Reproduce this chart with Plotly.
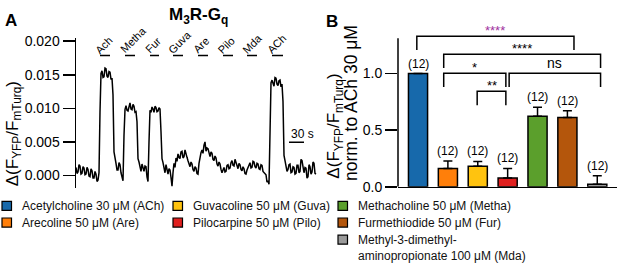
import plotly.graph_objects as go

W, H = 617, 271
FONT = "Liberation Sans, Arial, sans-serif"

# ---------------- Panel A data (trace, 2 s sampling) ----------------
time_s = list(range(0, 482, 2))
trace_values = [
    0.0012, 0.0003, 0.0005, 0.0016, 0.0014, 0.0002, 0.0003, 0.0013, 0.0011, 0.0001,
    0.0002, 0.0012, 0.0009, -0.0001, -0.0002, 0.0010, 0.0007, -0.0004, -0.0004, 0.0006,
    0.0002, -0.0009, -0.0007, 0.0004, 0.0095, 0.0152, 0.0156, 0.0146, 0.0147, 0.0160,
    0.0159, 0.0148, 0.0146, 0.0155, 0.0154, 0.0143, 0.0145, 0.0120, 0.0035, 0.0028,
    0.0018, 0.0008, 0.0008, 0.0019, 0.0016, 0.0004, -0.0004, -0.0008, 0.0060, 0.0098,
    0.0104, 0.0097, 0.0096, 0.0105, 0.0108, 0.0099, 0.0098, 0.0106, 0.0103, 0.0094,
    0.0095, 0.0080, 0.0025, 0.0020, 0.0012, 0.0006, 0.0017, 0.0010, 0.0006, 0.0014,
    0.0013, -0.0002, -0.0009, 0.0050, 0.0097, 0.0094, 0.0102, 0.0099, 0.0094, 0.0103,
    0.0101, 0.0095, 0.0096, 0.0101, 0.0099, 0.0065, 0.0025, 0.0019, 0.0010, 0.0004,
    0.0016, 0.0008, 0.0002, 0.0010, 0.0008, -0.0003, -0.0016, 0.0004, 0.0018, 0.0012,
    0.0026, 0.0021, 0.0032, 0.0027, 0.0025, 0.0035, 0.0036, 0.0026, 0.0028, 0.0038,
    0.0034, 0.0027, 0.0022, 0.0017, 0.0013, 0.0020, 0.0017, 0.0009, 0.0006, 0.0013,
    0.0011, 0.0003, 0.0002, 0.0018, 0.0030, 0.0034, 0.0038, 0.0033, 0.0045, 0.0050,
    0.0036, 0.0041, 0.0040, 0.0032, 0.0028, 0.0035, 0.0033, 0.0024, 0.0022, 0.0029,
    0.0026, 0.0017, 0.0014, 0.0020, 0.0017, 0.0009, 0.0004, 0.0008, 0.0012, 0.0005,
    0.0006, 0.0015, 0.0016, 0.0010, 0.0011, 0.0019, 0.0022, 0.0015, 0.0014, 0.0024,
    0.0019, 0.0013, 0.0010, 0.0018, 0.0016, 0.0009, 0.0007, 0.0013, 0.0010, 0.0003,
    0.0002, 0.0008, 0.0012, 0.0018, 0.0019, 0.0011, 0.0012, 0.0021, 0.0020, 0.0013,
    0.0011, 0.0018, 0.0017, 0.0010, 0.0009, 0.0016, 0.0015, 0.0006, 0.0004, 0.0002,
    0.0001, -0.0010, -0.0008, -0.0013, 0.0080, 0.0138, 0.0142, 0.0135, 0.0133, 0.0146,
    0.0145, 0.0136, 0.0134, 0.0141, 0.0142, 0.0132, 0.0136, 0.0110, 0.0030, 0.0022,
    0.0014, 0.0006, 0.0009, 0.0016, 0.0017, 0.0004, 0.0005, 0.0013, 0.0012, 0.0002,
    0.0003, 0.0015, 0.0015, 0.0004, 0.0006, 0.0024, 0.0022, 0.0008, 0.0004, 0.0012,
    0.0011, -0.0004, -0.0002, 0.0016, 0.0013, 0.0002, 0.0005, 0.0020, 0.0018, 0.0003,
    0.0002,
]
assert len(time_s) == len(trace_values)

app_labels = ["Ach", "Metha", "Fur", "Guva", "Are", "Pilo", "Mda", "ACh"]
app_start_s = [48, 98, 148, 194, 244, 294, 342, 392]
app_end_s = [68, 118, 166, 214, 264, 314, 362, 414]
scale_bar_s = 30
a_yticks = [0.000, 0.005, 0.010, 0.015, 0.020]

# ---------------- Panel B data (bars) ----------------
codes = ["ACh", "Are", "Guva", "Pilo", "Metha", "Fur", "Mda"]
legend_names = [
    "Acetylcholine 30 μM (ACh)",
    "Arecoline 50 μM (Are)",
    "Guvacoline 50 μM (Guva)",
    "Pilocarpine 50 μM (Pilo)",
    "Methacholine 50 μM (Metha)",
    "Furmethiodide 50 μM (Fur)",
    "Methyl-3-dimethyl-<br>aminopropionate 100 μM (Mda)",
]
bar_values = [1.0, 0.162, 0.182, 0.078, 0.624, 0.611, 0.022]
err_upper = [0.0, 0.065, 0.042, 0.084, 0.079, 0.061, 0.076]
n_cells = [12, 12, 12, 12, 12, 12, 12]
b_yticks = [0.0, 0.5, 1.0]
# significance comparisons: (left index, right index, label)
sig_pairs = [(0, 5, "****"), (1, 6, "****"), (1, 3, "*"), (3, 6, "ns"), (2, 3, "**")]

bar_colors = ["#1769ab", "#ff7f0a", "#ffc30f", "#e0201f", "#5b9f2c", "#b4560c", "#9a9a9a"]


def fx(px):
    return px / W


def fy(py):
    return 1 - py / H


fig = go.Figure()

fig.add_trace(go.Scatter(
    x=time_s, y=trace_values, mode="lines",
    line=dict(color="black", width=1.5),
    xaxis="x", yaxis="y", showlegend=False, hoverinfo="skip",
))

fig.add_trace(go.Bar(
    x=codes, y=bar_values, width=0.64,
    marker=dict(color=bar_colors, line=dict(color="black", width=1.5)),
    error_y=dict(type="data", symmetric=False, array=err_upper,
                 arrayminus=[0] * len(err_upper), color="black",
                 thickness=1.5, width=4.5),
    xaxis="x2", yaxis="y2", showlegend=False,
))

shapes = []
annotations = []

# ---- Panel A decorations: application bars with diagonal labels
APP_Y = 0.01787
for lab, s, e in zip(app_labels, app_start_s, app_end_s):
    shapes.append(dict(type="line", xref="x", yref="y", x0=s, x1=e, y0=APP_Y, y1=APP_Y,
                       line=dict(color="black", width=1.5)))
    annotations.append(dict(xref="x", yref="y", x=s, y=APP_Y, text=lab, textangle=-45,
                            xanchor="left", yanchor="bottom", xshift=-10, yshift=-3,
                            showarrow=False, font=dict(size=11, color="black", family=FONT)))

SB_X0 = 426
shapes.append(dict(type="line", xref="x", yref="y", x0=SB_X0, x1=SB_X0 + scale_bar_s,
                   y0=0.00496, y1=0.00496, line=dict(color="black", width=1.5)))
annotations.append(dict(xref="x", yref="y", x=SB_X0, y=0.00496, text=f"{scale_bar_s} s",
                        xanchor="left", yanchor="bottom", yshift=-1, showarrow=False,
                        font=dict(size=12, color="black", family=FONT)))

# ---- Panel B decorations
for i, (v, e, n) in enumerate(zip(bar_values, err_upper, n_cells)):
    annotations.append(dict(xref="x2", yref="y2", x=i, y=v + e, text=f"({n})",
                            xanchor="center", yanchor="bottom", yshift=1, showarrow=False,
                            font=dict(size=12, color="black", family=FONT)))

# y spine for panel B (axis line limited to the value range)
shapes.append(dict(type="line", xref="x2 domain", yref="y2", x0=0, x1=0, y0=0, y1=1.311,
                   line=dict(color="black", width=1.5)))

# bracket geometry (layout constants)
br_x = [(-0.04, 5.22), (0.86, 6.11), (0.86, 2.94), (3.05, 6.11), (1.98, 2.94)]
br_top = [1.330, 1.171, 1.0025, 1.0025, 0.843]
br_drop = 0.122
br_colors = ["#a0309e", "black", "black", "black", "black"]
br_font = [13, 13, 13, 14, 13]
for (i, j, lab), (x0, x1), top, col, fs in zip(sig_pairs, br_x, br_top, br_colors, br_font):
    path = f"M {x0} {top - br_drop} L {x0} {top} L {x1} {top} L {x1} {top - br_drop}"
    shapes.append(dict(type="path", xref="x2", yref="y2", path=path,
                       line=dict(color="black", width=1.5)))
    annotations.append(dict(xref="x2", yref="y2", x=(x0 + x1) / 2, y=top, text=lab,
                            xanchor="center", yanchor="bottom", yshift=0 if lab == "ns" else -4,
                            showarrow=False, font=dict(size=fs, color=col, family=FONT)))

# ---- titles and labels
annotations += [
    dict(xref="paper", yref="paper", x=fx(11), y=fy(16), text="<b>A</b>", showarrow=False,
         xanchor="center", yanchor="middle", font=dict(size=17, color="black", family=FONT)),
    dict(xref="paper", yref="paper", x=fx(332), y=fy(17), text="<b>B</b>", showarrow=False,
         xanchor="center", yanchor="middle", font=dict(size=17, color="black", family=FONT)),
    dict(xref="paper", yref="paper", x=fx(198), y=fy(12), text="<b>M<sub>3</sub>R-G<sub>q</sub></b>",
         showarrow=False, xanchor="center", yanchor="middle",
         font=dict(size=17, color="black", family=FONT)),
    dict(xref="paper", yref="paper", x=fx(14), y=fy(193),
         text="Δ(F<sub>YFP</sub>/F<sub>mTurq</sub>)", textangle=-90, showarrow=False,
         xanchor="center", yanchor="bottom", font=dict(size=17, color="black", family=FONT)),
    dict(xref="paper", yref="paper", x=fx(335), y=fy(185),
         text="Δ(F<sub>YFP</sub>/F<sub>mTurq</sub>)", textangle=-90, showarrow=False,
         xanchor="center", yanchor="bottom", font=dict(size=17, color="black", family=FONT)),
    dict(xref="paper", yref="paper", x=fx(351), y=fy(187),
         text="norm. to ACh 30 μM", textangle=-90, showarrow=False,
         xanchor="center", yanchor="bottom", font=dict(size=17.5, color="black", family=FONT)),
]

# ---- manual legend (3 columns)
col_x = [2, 173, 338]
row_y = [211, 228.5, 246.5, 263.5]
legend_pos = [(0, 0), (0, 1), (1, 0), (1, 1), (2, 0), (2, 1), (2, 2)]
SW = 9.5
for name, color, (c, r) in zip(legend_names, bar_colors, legend_pos):
    x0 = col_x[c]
    yc = row_y[r]
    shapes.append(dict(type="rect", xref="paper", yref="paper",
                       x0=fx(x0), x1=fx(x0 + SW), y0=fy(yc + SW / 2), y1=fy(yc - SW / 2),
                       fillcolor=color, line=dict(color="black", width=1.2)))
    lines = name.split("<br>")
    for k, ln in enumerate(lines):
        annotations.append(dict(xref="paper", yref="paper", x=fx(x0 + 18), y=fy(row_y[r + k]),
                                text=ln, xanchor="left", yanchor="middle", showarrow=False,
                                font=dict(size=12, color="#111", family=FONT)))

axis_common = dict(showgrid=False, zeroline=False, linecolor="black", linewidth=1.5,
                   tickcolor="black", tickwidth=1.5,
                   tickfont=dict(size=14, color="black", family=FONT))

fig.update_layout(
    width=W, height=H, margin=dict(l=0, r=0, t=0, b=0),
    paper_bgcolor="white", plot_bgcolor="white",
    font=dict(family=FONT, color="black"),
    hovermode=False,
    xaxis=dict(domain=[fx(76), fx(320)], range=[0, 488], visible=False, anchor="y"),
    yaxis=dict(domain=[fy(192), fy(35)], range=[-0.00184, 0.02043], anchor="x",
               showline=True, ticks="outside", ticklen=12,
               tickvals=a_yticks, ticktext=[f"{v:.3f}" for v in a_yticks], **axis_common),
    xaxis2=dict(domain=[fx(398), 1.0], range=[-0.67, 6.66], type="category", anchor="y2",
                showline=True, showticklabels=False, ticks="",
                **{k: v for k, v in axis_common.items() if k != "tickfont"}),
    yaxis2=dict(domain=[fy(191), fy(22)], range=[0, (191 - 22) / 119], anchor="x2",
                showline=False, ticks="outside", ticklen=12,
                tickvals=b_yticks, ticktext=[f"{v:.1f}" for v in b_yticks], **axis_common),
    shapes=shapes,
    annotations=annotations,
    bargap=0.36,
)

fig.write_html(
    "out.html",
    config={"displayModeBar": False, "staticPlot": True},
    post_script="document.body.style.margin='0';document.body.style.overflow='hidden';",
)
